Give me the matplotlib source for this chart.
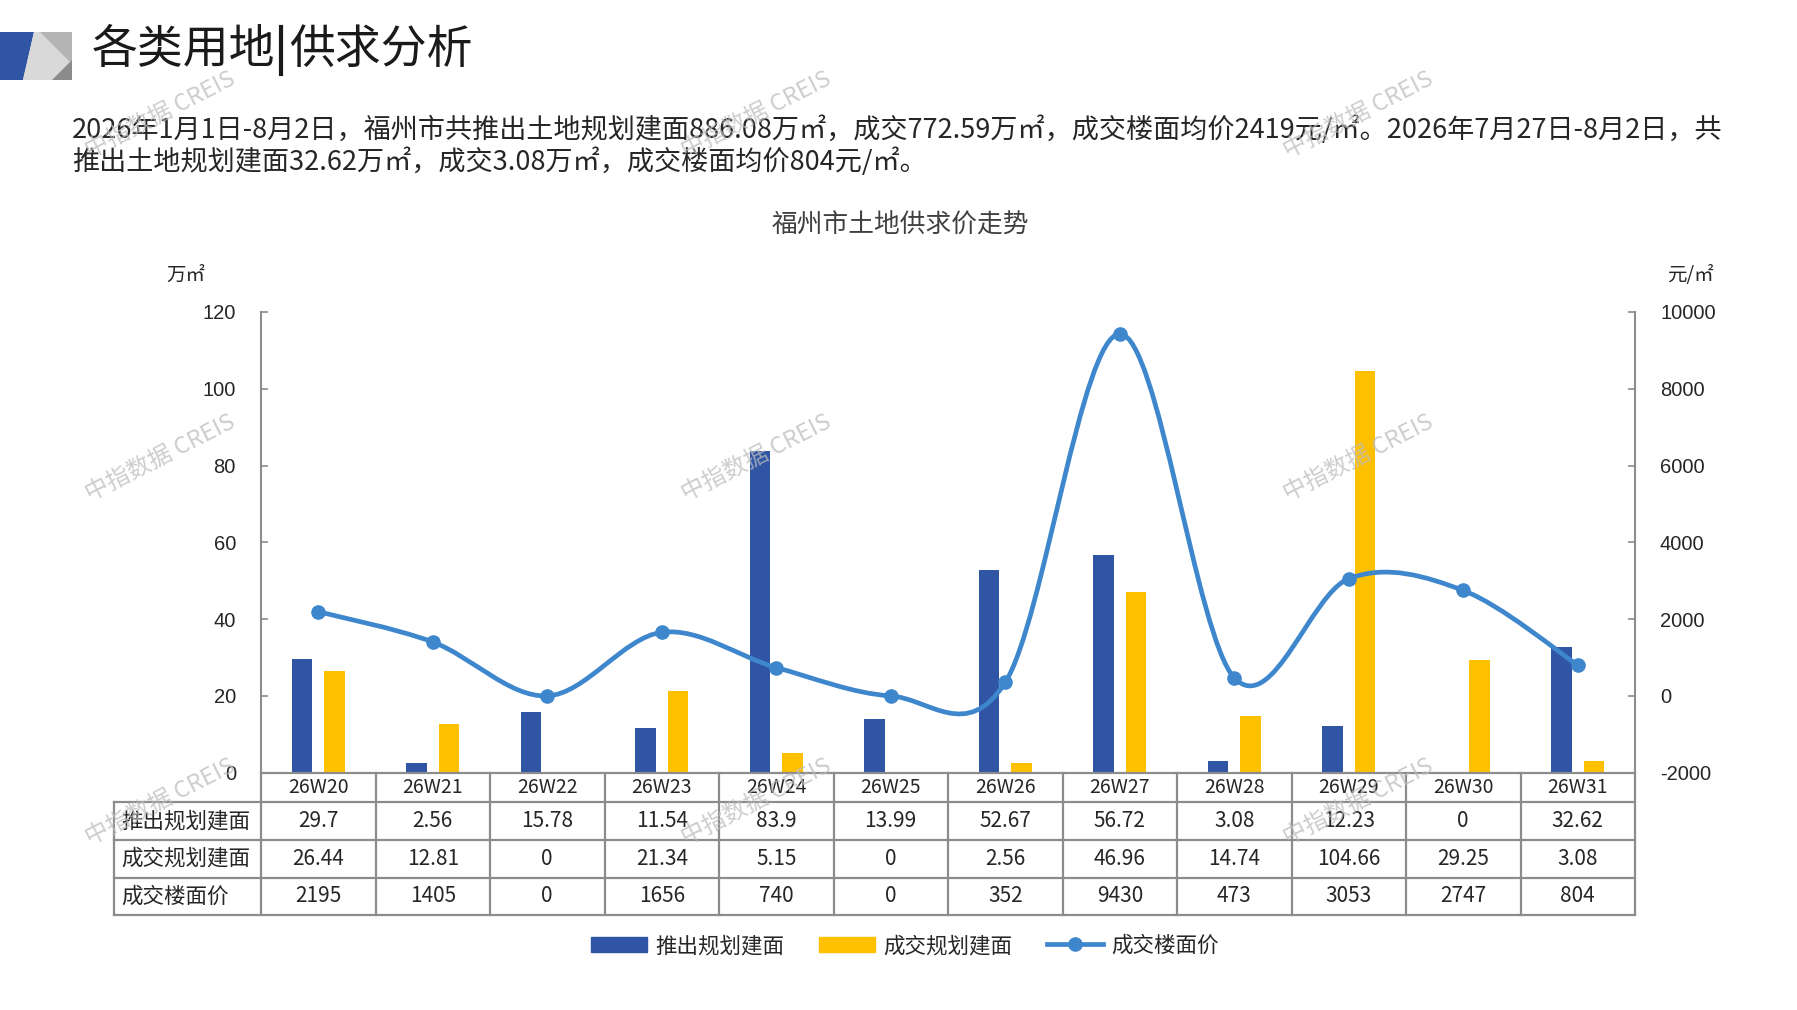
import matplotlib
matplotlib.use("Agg")
import matplotlib.pyplot as plt
import numpy as np
from matplotlib.path import Path
from matplotlib.patches import PathPatch, Patch, Polygon
from matplotlib.lines import Line2D
from matplotlib.transforms import blended_transform_factory

plt.rcParams['font.family'] = ['Noto Sans CJK SC', 'DejaVu Sans']

# ---- data ----
weeks = ["26W20", "26W21", "26W22", "26W23", "26W24", "26W25",
         "26W26", "26W27", "26W28", "26W29", "26W30", "26W31"]
supply_area = [29.7, 2.56, 15.78, 11.54, 83.9, 13.99, 52.67, 56.72, 3.08, 12.23, 0, 32.62]
deal_area = [26.44, 12.81, 0, 21.34, 5.15, 0, 2.56, 46.96, 14.74, 104.66, 29.25, 3.08]
deal_price = [2195, 1405, 0, 1656, 740, 0, 352, 9430, 473, 3053, 2747, 804]

series_names = ["推出规划建面", "成交规划建面", "成交楼面价"]
left_ticks = [0, 20, 40, 60, 80, 100, 120]
right_ticks = [-2000, 0, 2000, 4000, 6000, 8000, 10000]

title_parts = ["各类用地", "供求分析"]
para_lines = [
    "2026年1月1日-8月2日，福州市共推出土地规划建面886.08万㎡，成交772.59万㎡，成交楼面均价2419元/㎡。2026年7月27日-8月2日，共",
    "推出土地规划建面32.62万㎡，成交3.08万㎡，成交楼面均价804元/㎡。",
]
chart_title = "福州市土地供求价走势"
watermark = "中指数据 CREIS"

BLUE = "#2F55A4"
YELLOW = "#FFC000"
LINE = "#3F87CD"
GRID = "#8C8C8C"
TXT = "#262626"

W, H = 1797, 1010
fig = plt.figure(figsize=(W / 100, H / 100), dpi=100)


def fy(py):
    return 1 - py / H


# header graphic
for pts, col in [
    ([(0, 32), (34, 32), (23, 80), (0, 80)], BLUE),
    ([(34, 32), (72, 32), (72, 80), (23, 80)], "#D9D9D9"),
    ([(40, 32), (72, 32), (72, 64)], "#B4B4B4"),
    ([(52, 80), (72, 60), (72, 80)], "#8C8C8C"),
]:
    fig.patches.append(Polygon([(x / W, fy(y)) for x, y in pts], closed=True,
                               facecolor=col, edgecolor="none",
                               transform=fig.transFigure))

# page title with a thick divider bar
fig.text(92 / W, fy(50), title_parts[0], fontsize=33, color="#1a1a1a", va="center", ha="left")
fig.text(289 / W, fy(50), title_parts[1], fontsize=33, color="#1a1a1a", va="center", ha="left")
fig.add_artist(Line2D([281 / W, 281 / W], [fy(27), fy(74)], color="#1a1a1a", lw=3,
                      transform=fig.transFigure))

fig.text(72 / W, fy(129.5), para_lines[0], fontsize=19.5, color=TXT, va="center", ha="left")
fig.text(72 / W, fy(161.6), para_lines[1], fontsize=19.5, color=TXT, va="center", ha="left")
fig.text(900 / W, fy(226), chart_title, fontsize=18.5, color="#404040", va="center", ha="center")
fig.text(186 / W, fy(275), "万㎡", fontsize=14, color=TXT, va="center", ha="center")
fig.text(1690 / W, fy(275), "元/㎡", fontsize=14, color=TXT, va="center", ha="center")

# ---- axes ----
ax_l, ax_r, ax_t, ax_b = 261, 1635, 312, 772.7
ax = fig.add_axes([ax_l / W, fy(ax_b), (ax_r - ax_l) / W, (ax_b - ax_t) / H])
x = np.arange(len(weeks))
ax.bar(x - 0.141, supply_area, 0.177, color=BLUE, zorder=2)
ax.bar(x + 0.141, deal_area, 0.177, color=YELLOW, zorder=2)
ax.set_xlim(-0.5, len(weeks) - 0.5)
ax.set_ylim(0, 120)
ax.set_xticks([])
ax.set_yticks(left_ticks, [str(t) for t in left_ticks], fontfamily=["Liberation Sans", "DejaVu Sans"])
ax.tick_params(axis="y", direction="in", length=5, width=1.2, color=GRID, pad=18,
               labelsize=14.5, labelcolor=TXT)
for s in ["top", "right", "bottom"]:
    ax.spines[s].set_visible(False)
ax.spines["left"].set_color(GRID)
ax.spines["left"].set_linewidth(1.5)

ax2 = ax.twinx()
ax2.set_ylim(-2000, 10000)
ax2.set_yticks(right_ticks, [str(t) for t in right_ticks], fontfamily=["Liberation Sans", "DejaVu Sans"])
ax2.tick_params(axis="y", direction="in", length=5, width=1.2, color=GRID, pad=18,
                labelsize=14.5, labelcolor=TXT)
for s in ["top", "left", "bottom"]:
    ax2.spines[s].set_visible(False)
ax2.spines["right"].set_color(GRID)
ax2.spines["right"].set_linewidth(1.5)

# smoothed price line (cubic bezier through the points)
pts = np.column_stack([x, deal_price]).astype(float)
ext = np.vstack([pts[0], pts, pts[-1]])
verts = [pts[0]]
codes = [Path.MOVETO]
for i in range(len(pts) - 1):
    p0, p1, p2, p3 = ext[i], ext[i + 1], ext[i + 2], ext[i + 3]
    verts += [p1 + (p2 - p0) / 6, p2 - (p3 - p1) / 6, p2]
    codes += [Path.CURVE4] * 3
ax2.add_patch(PathPatch(Path(verts, codes), facecolor="none", edgecolor=LINE,
                        lw=3.4, capstyle="round", zorder=3))
ax2.plot(x, deal_price, "o", color=LINE, ms=9.5, zorder=4)

# ---- data table under the chart ----
tr = blended_transform_factory(ax.transData, fig.transFigure)
rows_px = [772.7, 802.3, 840, 877.7, 915]
label_left = -0.5 - (ax_l - 114.3) / ((ax_r - ax_l) / len(weeks))
lkw = dict(color=GRID, lw=1.6, transform=tr, clip_on=False)
ax.add_line(Line2D([-0.5, len(weeks) - 0.5], [fy(rows_px[0])] * 2, **lkw))
for yp in rows_px[1:]:
    ax.add_line(Line2D([label_left, len(weeks) - 0.5], [fy(yp)] * 2, **lkw))
for k in range(len(weeks) + 1):
    ax.add_line(Line2D([k - 0.5] * 2, [fy(rows_px[0]), fy(rows_px[-1])], **lkw))
ax.add_line(Line2D([label_left] * 2, [fy(rows_px[1]), fy(rows_px[-1])], **lkw))

tkw = dict(transform=tr, ha="center", va="center", color=TXT, clip_on=False)
ymid = [(fy(rows_px[i]) + fy(rows_px[i + 1])) / 2 for i in range(4)]
for i, w in enumerate(weeks):
    ax.text(i, ymid[0], w, fontsize=14, **tkw)
    ax.text(i, ymid[1], f"{supply_area[i]:g}", fontsize=15, **tkw)
    ax.text(i, ymid[2], f"{deal_area[i]:g}", fontsize=15, **tkw)
    ax.text(i, ymid[3], f"{deal_price[i]:g}", fontsize=15, **tkw)
for r, name in enumerate(series_names):
    ax.text(label_left + 0.06, ymid[r + 1], name, fontsize=15.5, transform=tr,
            ha="left", va="center", color=TXT, clip_on=False)

# legend
handles = [Patch(color=BLUE), Patch(color=YELLOW),
           Line2D([], [], color=LINE, lw=3.4, marker="o", ms=9.5)]
fig.legend(handles, series_names, loc="center", bbox_to_anchor=(905 / W, fy(946)),
           ncol=3, frameon=False, fontsize=15.5, handlelength=2.6,
           handletextpad=0.4, columnspacing=1.6, labelcolor=TXT)

# watermarks
for wx in (160, 756, 1358):
    for wy in (115, 458, 802):
        fig.text(wx / W, fy(wy), watermark, fontsize=17, color="#BDBDBD", alpha=0.75,
                 rotation=27, ha="center", va="center", zorder=10)

fig.savefig("out.png", dpi=100)
